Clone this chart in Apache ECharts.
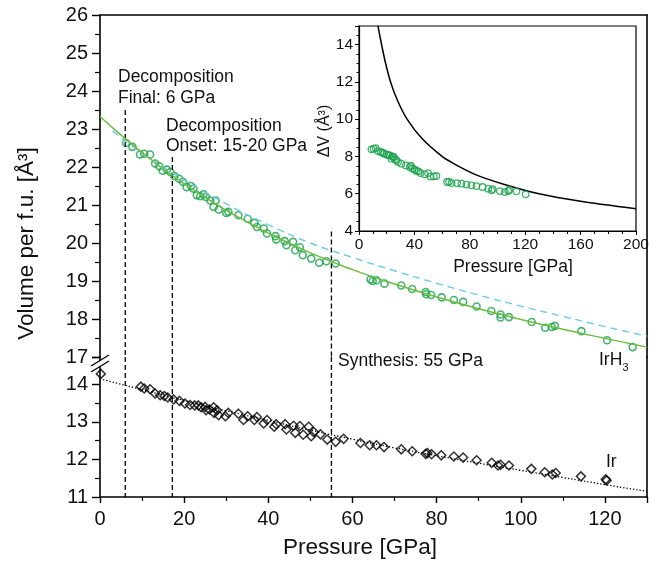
<!DOCTYPE html>
<html>
<head>
<meta charset="utf-8">
<script src="https://cdn.jsdelivr.net/npm/echarts@6.0.0/dist/echarts.min.js"></script>
<style>
  html, body { margin: 0; padding: 0; background: #fff; }
  #chart { width: 658px; height: 562px; }
</style>
</head>
<body>
<div id="chart"></div>
<script>
// IrH3 measured volumes [pressure GPa, volume A^3]
const irh3Points = [
  [6.2,22.63],[7.7,22.53],[9.5,22.33],[10.5,22.35],[11.9,22.33],[13.1,22.09],[14.1,22.02],[14.9,21.9],
  [15.9,21.93],[16.7,21.87],[17.7,21.76],[18.8,21.69],[19.7,21.61],[20.6,21.47],[21.6,21.5],[22.2,21.43],
  [23.0,21.26],[23.8,21.23],[24.6,21.28],[25.2,21.21],[26.2,21.12],[27.0,20.95],[27.5,21.12],[28.2,20.88],
  [30.0,20.79],[30.5,20.82],[32.9,20.73],[35.1,20.64],[36.7,20.53],[37.3,20.42],[38.9,20.38],[39.7,20.25],
  [41.7,20.18],[41.9,20.09],[43.9,20.05],[44.3,19.94],[45.9,20.03],[46.4,19.81],[47.5,19.89],[48.2,19.68],
  [50.2,19.59],[52.1,19.48],[53.8,19.52],[56.0,19.46],[64.3,19.04],[64.8,19.0],[65.7,19.02],[67.6,18.93],
  [71.6,18.88],[74.2,18.79],[77.4,18.71],[77.5,18.65],[78.7,18.63],[81.2,18.57],[84.1,18.5],[86.3,18.45],
  [89.5,18.33],[93.0,18.21],[95.2,18.12],[95.2,18.04],[97.2,18.05],[102.6,17.92],[105.8,17.77],[107.4,17.79],
  [108.1,17.82],[114.4,17.68],[120.5,17.44],[126.6,17.26]
];
// IrH3 fit (solid green)
const irh3Fit = [
  [0,23.33],[5,22.84],[10,22.38],[15,21.95],[20,21.56],[25,21.2],[30,20.86],[40,20.26],[50,19.74],
  [60,19.3],[70,18.92],[80,18.58],[90,18.27],[100,17.99],[110,17.73],[120,17.49],[130,17.26]
];
// dashed light blue curve
const blueCurve = [
  [3,22.95],[10,22.36],[20,21.66],[30,21.03],[40,20.48],[50,20.0],[60,19.62],[70,19.27],
  [80,18.94],[90,18.63],[100,18.34],[110,18.07],[120,17.8],[130,17.55]
];
// Ir measured volumes
const irPoints = [
  [0.2,14.28],[9.7,13.94],[10.5,13.89],[11.9,13.87],[13.1,13.76],[14.3,13.71],[15.3,13.69],[16.1,13.65],
  [17.5,13.6],[18.9,13.56],[20.2,13.49],[21.4,13.45],[22.5,13.44],[23.4,13.44],[24.0,13.39],[25.0,13.4],
  [25.2,13.31],[26.0,13.33],[27.0,13.39],[27.1,13.24],[27.8,13.31],[28.2,13.18],[29.8,13.15],[30.5,13.24],
  [32.9,13.22],[34.1,13.05],[35.1,13.15],[36.7,13.05],[37.3,13.13],[38.9,12.96],[39.7,13.05],[41.4,12.87],
  [41.9,12.94],[44.0,12.94],[44.3,12.8],[46.0,12.9],[46.4,12.71],[47.5,12.89],[48.3,12.66],[49.6,12.87],
  [50.2,12.62],[50.8,12.73],[52.4,12.67],[54.0,12.53],[56.0,12.47],[57.9,12.55],[61.9,12.44],[64.1,12.38],
  [65.7,12.38],[67.5,12.33],[71.6,12.27],[74.2,12.22],[77.4,12.15],[77.8,12.17],[78.8,12.14],[81.1,12.11],
  [84.1,12.08],[86.3,12.05],[89.5,11.98],[93.1,11.91],[94.6,11.84],[95.2,11.86],[97.2,11.84],[102.5,11.75],
  [105.7,11.66],[107.5,11.6],[108.3,11.64],[114.3,11.55],[120.4,11.44],[120.2,11.47]
];
// Ir fit (dotted)
const irFit = [
  [0,14.15],[10,13.86],[20,13.57],[30,13.3],[40,13.04],[50,12.78],[60,12.54],[70,12.31],
  [80,12.1],[90,11.9],[100,11.71],[110,11.52],[120,11.33],[130,11.15]
];
// vertical markers
const markerP = [6, 17.2, 55];
const markerTop = [23.5, 22.26, 20.3];

// inset: delta V
const insetPoints = [
  [9,8.38],[10.5,8.42],[12.1,8.45],[13.7,8.29],[15.7,8.24],[17,8.2],[18.1,8.15],[19.8,8.11],[21,8.08],
  [22.2,8.06],[23.4,7.88],[24,8.0],[25.1,7.97],[26,7.85],[27,7.79],[28.2,7.7],[30.6,7.61],[33.8,7.52],
  [36.6,7.43],[37.5,7.5],[38.6,7.35],[40,7.3],[41.5,7.22],[43,7.2],[44.4,7.11],[47.5,7.04],[49.9,7.11],
  [51.6,6.93],[54,6.93],[55.9,6.95],[63.6,6.63],[65,6.65],[66.8,6.57],[70.8,6.57],[74,6.54],[77.6,6.49],
  [81.2,6.45],[84.8,6.41],[89.2,6.36],[93.3,6.27],[95.7,6.18],[96.5,6.25],[101.7,6.14],[105.3,6.09],
  [107.7,6.14],[108.5,6.2],[113.7,6.13],[120.3,5.97]
];
const insetCurve = [
  [13.7,15],[15,14.5],[16.3,14],[19.2,13],[22.8,12],[27.8,11],[34.7,10],[45,9],[60,8],[70,7.55],
  [85,7.0],[105,6.5],[130,6.0],[160,5.6],[200,5.2]
];

const FONT = '"Liberation Sans", Arial, Helvetica, sans-serif';
const GREEN = '#18a04a';
const frame = { color: '#000', width: 1.6 };

const chart = echarts.init(document.getElementById('chart'));

function frameAxis(gridIndex, min, max, position) {
  return {
    gridIndex, type: 'value', min, max, position,
    axisLine: { show: true, onZero: false, lineStyle: frame },
    axisTick: { show: false }, axisLabel: { show: false }, splitLine: { show: false }
  };
}

const series = [];
markerP.forEach((p, i) => {
  series.push({
    type: 'line', xAxisIndex: 0, yAxisIndex: 0, data: [[p, markerTop[i]], [p, 17]],
    showSymbol: false, lineStyle: { color: '#000', width: 1.3, type: [5, 3] }, silent: true
  });
  series.push({
    type: 'line', xAxisIndex: 1, yAxisIndex: 2, data: [[p, 14.73], [p, 11]],
    showSymbol: false, lineStyle: { color: '#000', width: 1.3, type: [5, 3] }, silent: true
  });
});

series.push(
  {
    type: 'line', xAxisIndex: 0, yAxisIndex: 0, data: blueCurve, smooth: true, showSymbol: false,
    lineStyle: { color: '#6ccbe8', width: 1.4, type: [7, 5] }
  },
  {
    type: 'line', xAxisIndex: 0, yAxisIndex: 0, data: irh3Fit, smooth: true, showSymbol: false,
    lineStyle: { color: '#6cbd3f', width: 1.5 }
  },
  {
    type: 'scatter', xAxisIndex: 0, yAxisIndex: 0, data: irh3Points, symbol: 'circle', symbolSize: 7,
    itemStyle: { color: 'rgba(0,0,0,0)', borderColor: GREEN, borderWidth: 1.6 }
  },
  {
    type: 'line', xAxisIndex: 1, yAxisIndex: 2, data: irFit, smooth: true, showSymbol: false,
    lineStyle: { color: '#000', width: 1.3, type: [1.3, 2] }
  },
  {
    type: 'scatter', xAxisIndex: 1, yAxisIndex: 2, data: irPoints, symbol: 'diamond', symbolSize: 9,
    itemStyle: { color: 'rgba(0,0,0,0)', borderColor: '#000', borderWidth: 1.5 }
  },
  {
    type: 'line', xAxisIndex: 2, yAxisIndex: 4, data: insetCurve, smooth: 0.3,
    showSymbol: false, z: 7, lineStyle: { color: '#000', width: 1.5 }
  },
  {
    type: 'scatter', xAxisIndex: 2, yAxisIndex: 4, data: insetPoints, symbol: 'circle', symbolSize: 6.5, z: 7,
    itemStyle: { color: 'rgba(0,0,0,0)', borderColor: GREEN, borderWidth: 1.3 }
  }
);

function txt(text, x, y, size, align) {
  return {
    type: 'text', z: 20,
    style: { text, x, y, font: size + 'px ' + FONT, fill: '#111', textAlign: align || 'left', textVerticalAlign: 'middle' }
  };
}

chart.setOption({
  animation: false,
  backgroundColor: '#fff',
  grid: [
    { left: 100, top: 15, width: 547, height: 342 },
    { left: 100, top: 357, width: 547, height: 140 },
    { left: 359, top: 26, width: 277, height: 205, show: true, backgroundColor: '#fff',
      borderColor: '#000', borderWidth: 1.2, z: 5 }
  ],
  xAxis: [
    frameAxis(0, 0, 130, 'top'),
    {
      gridIndex: 1, type: 'value', min: 0, max: 130, interval: 20, position: 'bottom',
      axisLine: { show: true, onZero: false, lineStyle: frame },
      axisTick: { show: true, length: 6, lineStyle: { color: '#000', width: 1.4 } },
      minorTick: { show: true, splitNumber: 2, length: 4, lineStyle: { color: '#000', width: 1.2 } },
      splitLine: { show: false },
      axisLabel: { fontFamily: FONT, fontSize: 20, color: '#111', margin: 12, showMaxLabel: false }
    },
    {
      gridIndex: 2, type: 'value', min: 0, max: 200, interval: 40, z: 6,
      axisLine: { show: true, onZero: false, lineStyle: { color: '#000', width: 1.2 } },
      axisTick: { show: true, length: 4, lineStyle: { color: '#000', width: 1 } },
      minorTick: { show: true, splitNumber: 4, length: 3, lineStyle: { color: '#000', width: 1 } },
      splitLine: { show: false },
      axisLabel: { fontFamily: FONT, fontSize: 15.5, color: '#111', margin: 6 }
    }
  ],
  yAxis: [
    {
      gridIndex: 0, type: 'value', min: 17, max: 26, interval: 1,
      axisLine: { show: true, onZero: false, lineStyle: frame },
      axisTick: { show: true, length: 8, lineStyle: { color: '#000', width: 1.4 } },
      minorTick: { show: true, splitNumber: 2, length: 5, lineStyle: { color: '#000', width: 1.2 } },
      splitLine: { show: false },
      axisLabel: { fontFamily: FONT, fontSize: 20, color: '#111', margin: 12 }
    },
    frameAxis(0, 17, 26, 'right'),
    {
      gridIndex: 1, type: 'value', min: 11, max: 14.73, interval: 1,
      axisLine: { show: true, onZero: false, lineStyle: frame },
      axisTick: { show: true, length: 8, lineStyle: { color: '#000', width: 1.4 } },
      minorTick: { show: true, splitNumber: 2, length: 5, lineStyle: { color: '#000', width: 1.2 } },
      splitLine: { show: false },
      axisLabel: { fontFamily: FONT, fontSize: 20, color: '#111', margin: 12, showMaxLabel: false }
    },
    frameAxis(1, 11, 14.73, 'right'),
    {
      gridIndex: 2, type: 'value', min: 4, max: 15, interval: 2, z: 6,
      axisLine: { show: true, onZero: false, lineStyle: { color: '#000', width: 1.2 } },
      axisTick: { show: true, length: 4, lineStyle: { color: '#000', width: 1 } },
      minorTick: { show: true, splitNumber: 4, length: 2.5, lineStyle: { color: '#000', width: 1 } },
      splitLine: { show: false },
      axisLabel: { fontFamily: FONT, fontSize: 15.5, color: '#111', margin: 6, showMaxLabel: false }
    }
  ],
  series,
  graphic: [
    // axis break
    { type: 'polygon', z: 30, shape: { points: [[91, 366], [109, 355], [109, 361], [91, 372]] },
      style: { fill: '#fff' } },
    { type: 'line', z: 31, shape: { x1: 91, y1: 366, x2: 109, y2: 355 }, style: { stroke: '#000', lineWidth: 1.3 } },
    { type: 'line', z: 31, shape: { x1: 91, y1: 372, x2: 109, y2: 361 }, style: { stroke: '#000', lineWidth: 1.3 } },
    txt('Decomposition', 118, 77, 17.5),
    txt('Final: 6 GPa', 118, 98.5, 17.5),
    txt('Decomposition', 166, 126, 17.5),
    txt('Onset: 15-20 GPa', 166, 146.5, 17.5),
    txt('Synthesis: 55 GPa', 338, 361, 17.5),
    txt('IrH', 599, 360, 17.5),
    txt('3', 622.5, 368, 11),
    txt('Ir', 606, 462, 17.5),
    txt('Pressure [GPa]', 360, 548, 22.5, 'center'),
    txt('Pressure [GPa]', 513, 267, 17.5, 'center'),
    { type: 'text', z: 20, x: 27, y: 243.5, rotation: Math.PI / 2,
      style: { text: 'Volume per f.u. [Å³]', font: '22.5px ' + FONT, fill: '#111',
        textAlign: 'center', textVerticalAlign: 'middle' } },
    { type: 'text', z: 20, x: 325, y: 131, rotation: Math.PI / 2,
      style: { text: 'ΔV (Å³)', font: '16px ' + FONT, fill: '#111',
        textAlign: 'center', textVerticalAlign: 'middle' } }
  ]
});
</script>
</body>
</html>
